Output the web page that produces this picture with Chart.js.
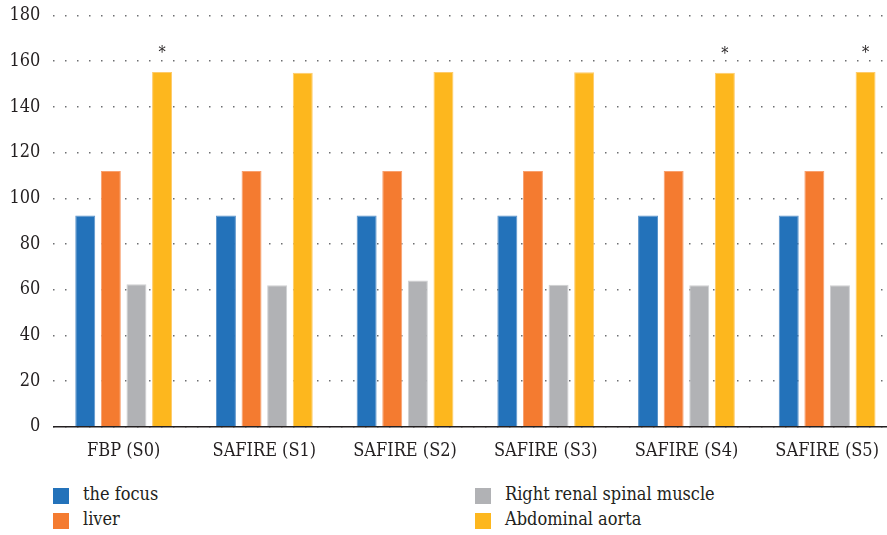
<!DOCTYPE html>
<html>
<head>
<meta charset="utf-8">
<script src="https://cdn.jsdelivr.net/npm/chart.js@4/dist/chart.umd.min.js"></script>
<style>
  html, body { margin: 0; padding: 0; background: #fff; overflow: hidden; width: 887px; height: 535px; }
  #wrap { position: absolute; left: 0; top: 0; width: 900px; height: 470px; }
  #legend { position: absolute; left: 0; top: 487px; width: 887px; height: 48px; font-family: "DejaVu Serif Condensed", "DejaVu Serif", serif; font-size: 18px; color: #231F20; }
  .item { position: absolute; height: 16px; line-height: 16px; white-space: nowrap; }
  .sw { position: absolute; left: 0; top: 1px; width: 16px; height: 16px; }
  .lbl { position: absolute; left: 30px; top: -1px; }
</style>
</head>
<body>
<div id="wrap"><canvas id="c" width="900" height="470"></canvas></div>
<div id="legend"></div>
<script>
const categories = ['FBP (S0)', 'SAFIRE (S1)', 'SAFIRE (S2)', 'SAFIRE (S3)', 'SAFIRE (S4)', 'SAFIRE (S5)'];
const seriesNames = ['the focus', 'liver', 'Right renal spinal muscle', 'Abdominal aorta'];
const focusValues = [92.5, 92.5, 92.5, 92.5, 92.5, 92.5];
const liverValues = [112, 112, 112, 112, 112, 112];
const muscleValues = [62.4, 62, 64, 62.2, 62, 62];
const aortaValues = [155.3, 155, 155.3, 155.2, 155, 155.3];
const significance = ['*', '', '', '', '*', '*'];
const yTicks = [0, 20, 40, 60, 80, 100, 120, 140, 160, 180];

const colors = ['#2372BA', '#F47B30', '#B1B2B5', '#FDB71E'];
const borders = ['#5D95CB', '#F8A06E', '#CFD0D2', '#FECB6A'];
const FONT = '"DejaVu Serif Condensed", "DejaVu Serif", serif';

const seriesValues = [focusValues, liverValues, muscleValues, aortaValues];
const datasets = seriesNames.map((name, i) => ({
  label: name,
  data: seriesValues[i],
  backgroundColor: colors[i],
  borderColor: borders[i],
  borderWidth: 1,
  categoryPercentage: 0.728,
  barPercentage: 0.78
}));

const asteriskPlugin = {
  id: 'asterisks',
  afterDatasetsDraw(chart) {
    const meta = chart.getDatasetMeta(3);
    const ctx = chart.ctx;
    ctx.save();
    ctx.fillStyle = '#231F20';
    ctx.font = '16px ' + FONT;
    ctx.textAlign = 'center';
    ctx.textBaseline = 'middle';
    significance.forEach((s, i) => {
      if (!s) return;
      const bar = meta.data[i];
      ctx.fillText(s, bar.x, bar.y - 18);
    });
    ctx.restore();
  }
};

const chart = new Chart(document.getElementById('c'), {
  type: 'bar',
  data: { labels: categories, datasets },
  options: {
    responsive: false,
    animation: false,
    devicePixelRatio: 1,
    layout: { padding: { top: 15.5, right: 2.5, left: 0, bottom: 0 } },
    plugins: { legend: { display: false }, tooltip: { enabled: false } },
    scales: {
      x: {
        afterFit(scale) { scale.height = 43.2; scale.paddingLeft = 0; scale.paddingRight = 0; },
        grid: { display: false },
        border: { display: true, color: '#231F20', width: 1.5 },
        ticks: { color: '#231F20', font: { family: FONT, size: 18 }, padding: 6 }
      },
      y: {
        min: 0, max: 180,
        afterFit(scale) { scale.width = 53.3; scale.paddingTop = 0; scale.paddingBottom = 0; },
        afterBuildTicks(scale) { scale.ticks = yTicks.map(v => ({ value: v })); },
        border: { display: false, dash: [1.5, 10.5] },
        grid: {
          color: '#6D6E71',
          lineWidth: 1.5,
          drawTicks: false
        },
        ticks: { color: '#231F20', font: { family: FONT, size: 18 }, padding: 13 }
      }
    }
  },
  plugins: [asteriskPlugin]
});

const legend = document.getElementById('legend');
const pos = [[53, 0], [53, 25], [475, 0], [475, 25]];
seriesNames.forEach((name, i) => {
  const it = document.createElement('div');
  it.className = 'item';
  it.style.left = pos[i][0] + 'px';
  it.style.top = pos[i][1] + 'px';
  it.innerHTML = '<span class="sw" style="background:' + colors[i] + '"></span><span class="lbl">' + name + '</span>';
  legend.appendChild(it);
});
</script>
</body>
</html>
